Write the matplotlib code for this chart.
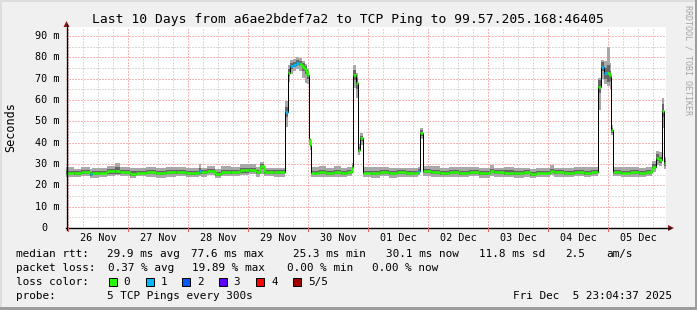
import matplotlib
matplotlib.use('Agg')
import matplotlib.pyplot as plt
from matplotlib.patches import Rectangle, Polygon
from matplotlib.lines import Line2D

W, H = 697, 310

# hours after the graph start (Tue Nov 25 23:04:37), median rtt in ms
hours = [0.0, 3.0, 6.0, 9.6, 10.4, 13.0, 16.4, 19.6, 21.6, 25.6, 28.0, 32.0,
         36.0, 40.0, 44.0, 48.0, 53.2, 54.0, 56.4, 59.6, 62.0, 66.0, 69.6, 73.0,
         76.0, 77.6, 79.2, 83.0,
         87.7, 88.9, 89.6, 90.6, 91.8, 93.0, 94.4, 95.4, 96.5, 97.1, 97.5,
         97.9, 101.0, 104.0, 107.0, 110.0, 112.5, 114.2,
         114.8, 116.0, 116.9, 117.6,
         118.9, 122.0, 125.5, 129.0, 132.5, 136.0, 139.0, 140.8,
         141.6,
         142.7, 146.0, 149.5, 153.0, 157.0, 161.0, 165.0, 169.6, 171.0, 175.0,
         179.0, 183.0, 185.6, 188.0, 193.6, 195.0, 199.0, 203.0, 207.0, 210.0,
         212.9, 214.0, 215.3, 216.3, 217.6, 218.0,
         218.9, 222.0, 225.5, 229.0, 232.0, 234.3,
         236.0, 237.3, 238.3, 239.2]
median = [26.0, 25.8, 26.2, 25.4, 25.6, 26.0, 26.5, 26.9, 26.2, 25.5, 26.0, 26.3,
          25.8, 26.1, 26.4, 25.9, 26.6, 26.1, 26.7, 25.5, 26.4, 26.3, 27.0, 27.3,
          26.3, 28.9, 26.2, 26.1,
          54.4, 72.8, 75.8, 76.6, 77.4, 77.0, 75.3, 74.0, 71.6, 41.6, 39.0,
          26.0, 26.3, 25.7, 26.2, 25.9, 26.2, 28.4,
          71.7, 67.8, 36.6, 42.0,
          26.0, 25.8, 26.2, 25.7, 26.1, 25.8, 26.0, 26.8,
          44.5,
          26.6, 26.2, 25.8, 26.3, 25.9, 26.2, 25.8, 26.8, 26.1, 26.0,
          25.7, 26.1, 25.4, 26.0, 26.8, 26.1, 25.9, 26.2, 25.9, 26.2,
          66.2, 75.6, 72.5, 72.5, 71.2, 45.9,
          26.4, 26.0, 26.3, 25.9, 26.2, 28.7,
          33.0, 31.9, 55.0, 30.3]
# smoke: light band above / below the median, dark band half width
smoke_up = [2.6, 2.0, 2.3, 2.4, 2.3, 2.1, 2.5, 3.6, 2.2, 2.4, 2.0, 2.4,
            2.2, 2.6, 2.2, 2.4, 3.2, 2.2, 2.4, 2.2, 2.6, 2.4, 2.8, 2.6,
            2.2, 2.2, 2.0, 2.2,
            5.0, 3.5, 3.0, 2.8, 2.6, 2.8, 3.0, 3.0, 3.0, 2.0, 2.0,
            2.4, 2.6, 2.2, 2.8, 2.4, 2.2, 2.0,
            4.5, 5.0, 3.0, 2.5,
            2.4, 2.6, 2.2, 2.4, 2.2, 2.5, 2.2, 2.0,
            2.5,
            2.4, 2.8, 2.4, 2.2, 2.6, 2.2, 2.4, 2.6, 2.2, 2.4,
            2.6, 2.2, 2.4, 2.2, 2.8, 2.2, 2.4, 2.2, 2.5, 2.2,
            4.0, 3.2, 6.0, 12.5, 6.0, 2.5,
            2.4, 2.6, 2.2, 2.4, 2.2, 2.5,
            3.0, 3.5, 6.0, 3.0]
smoke_dn = [2.2, 1.8, 2.0, 2.2, 2.0, 1.9, 2.0, 2.0, 2.0, 2.2, 1.8, 2.2,
            2.4, 2.0, 2.0, 2.2, 2.0, 2.0, 2.0, 2.0, 2.2, 2.0, 2.2, 2.0,
            2.4, 3.5, 1.8, 2.0,
            7.0, 4.5, 3.5, 3.0, 3.0, 3.5, 5.0, 6.0, 4.0, 2.5, 2.5,
            2.0, 2.2, 2.0, 2.2, 2.0, 2.0, 2.5,
            6.0, 7.0, 2.5, 3.0,
            2.0, 2.2, 2.0, 2.2, 2.0, 2.0, 2.0, 2.0,
            3.0,
            2.2, 2.2, 2.0, 2.2, 2.0, 2.0, 2.2, 2.2, 2.0, 2.0,
            2.2, 2.0, 2.2, 2.0, 2.0, 2.0, 2.2, 2.0, 2.2, 2.0,
            11.0, 6.0, 5.0, 6.0, 6.0, 2.5,
            2.2, 2.0, 2.2, 2.0, 2.0, 2.5,
            3.5, 3.0, 8.0, 2.5]
smoke_core = [0.9, 0.8, 1.0, 1.0, 0.9, 0.9, 1.0, 1.6, 0.9, 1.0, 0.8, 1.0,
              1.0, 0.9, 1.0, 0.9, 1.4, 0.9, 1.0, 0.9, 1.0, 0.9, 1.0, 1.0,
              1.0, 1.2, 0.8, 0.9,
              2.5, 1.6, 1.5, 1.3, 1.2, 1.3, 1.8, 2.0, 1.6, 1.0, 1.0,
              0.9, 1.0, 0.9, 1.0, 1.0, 0.9, 1.0,
              2.5, 2.5, 1.2, 1.2,
              0.9, 1.0, 0.9, 1.0, 0.9, 1.0, 0.9, 0.9,
              1.2,
              1.0, 1.0, 0.9, 1.0, 0.9, 1.0, 0.9, 1.0, 0.9, 1.0,
              1.0, 0.9, 1.0, 0.9, 1.0, 0.9, 1.0, 0.9, 1.0, 0.9,
              3.0, 2.0, 2.5, 4.0, 2.5, 1.2,
              1.0, 0.9, 1.0, 0.9, 1.0, 1.2,
              1.5, 1.5, 3.0, 1.2]
loss = [0, 0, 0, 1, 0, 0, 0, 0, 0, 0, 0, 0,
        0, 0, 0, 0, 1, 0, 0, 0, 0, 0, 0, 0,
        0, 0, 0, 0,
        1, 0, 1, 1, 1, 0, 0, 0, 0, 0, 0,
        0, 0, 0, 0, 0, 0, 0,
        0, 0, 0, 0,
        0, 0, 0, 0, 0, 0, 0, 1,
        0,
        0, 0, 0, 0, 0, 0, 0, 0, 0, 0,
        0, 0, 0, 0, 0, 0, 0, 0, 0, 0,
        0, 1, 1, 0, 0, 0,
        0, 0, 0, 0, 0, 0,
        0, 0, 0, 0]

loss_colors = ['#26ff00', '#00b8ff', '#0059ff', '#5e00ff', '#ff0000', '#a00000']
loss_labels = ['0', '1', '2', '3', '4', '5/5']
day_labels = ['26 Nov', '27 Nov', '28 Nov', '29 Nov', '30 Nov',
              '01 Dec', '02 Dec', '03 Dec', '04 Dec', '05 Dec']
y_ticks = [0, 10, 20, 30, 40, 50, 60, 70, 80, 90]
first_midnight = 55.38 / 60.0  # Nov 26 00:00 in hours after the start
span = 240.0

title = 'Last 10 Days from a6ae2bdef7a2 to TCP Ping to 99.57.205.168:46405'

MONO = 'DejaVu Sans Mono'
plt.rcParams['font.family'] = MONO


def fx(x):
    return x / W


def fy(y):
    return 1 - y / H


fig = plt.figure(figsize=(W / 100, H / 100), dpi=100, facecolor='#f0f0f0')

# 3d-ish frame of the rrd canvas
fig.add_artist(Rectangle((0, 0), fx(2), 1, transform=fig.transFigure, color='#dddddd', lw=0))
fig.add_artist(Rectangle((0, fy(2)), 1, 2 / H, transform=fig.transFigure, color='#dddddd', lw=0))
fig.add_artist(Rectangle((fx(695), 0), 2 / W, 1, transform=fig.transFigure, color='#9d9d9d', lw=0))
fig.add_artist(Rectangle((0, 0), 1, 3 / H, transform=fig.transFigure, color='#9d9d9d', lw=0))

ax = fig.add_axes([fx(66), fy(228), 600 / W, 201 / H])
ax.set_facecolor('white')
ax.set_xlim(0, span)
ax.set_ylim(0, 94.2)
for s in ax.spines.values():
    s.set_visible(False)
ax.set_xticks([])
ax.set_yticks([])

# dotted grid, red at midnights / every 10 ms, grey in between
dots = (0, (1, 2))
k = 0
while first_midnight + 6 * k < span:
    h = first_midnight + 6 * k
    col = '#f07070' if k % 4 == 0 else '#b8b8b8'
    ax.axvline(h, color=col, lw=0.72, ls=dots, zorder=1)
    k += 1
for v in range(5, 95, 5):
    col = '#f07070' if v % 10 == 0 else '#b8b8b8'
    ax.axhline(v, color=col, lw=0.72, ls=dots, zorder=1)

xs = hours + [span]
med = median + [median[-1]]
up = smoke_up + [smoke_up[-1]]
dn = smoke_dn + [smoke_dn[-1]]
cr = smoke_core + [smoke_core[-1]]

ax.fill_between(xs, [m - d for m, d in zip(med, dn)], [m + u for m, u in zip(med, up)],
                step='post', color='#a8a8a8', lw=0, zorder=2)
ax.fill_between(xs, [m - c for m, c in zip(med, cr)], [m + c for m, c in zip(med, cr)],
                step='post', color='#666666', lw=0, zorder=3)
ax.step(xs, med, where='post', color='black', lw=0.72, zorder=4)

for i in range(len(hours)):
    c = loss_colors[loss[i]]
    x0, x1 = xs[i], xs[i + 1]
    ax.hlines(median[i], x0, x1, color=c, lw=1.8, zorder=5)
    if i + 1 < len(median) and abs(median[i + 1] - median[i]) < 3:
        ax.vlines(x1, median[i], median[i + 1], color=c, lw=1.8, zorder=5)

# axis labels
for i, lab in enumerate(day_labels):
    ax.text(first_midnight + 12 + 24 * i, -10.3 / 201, lab, transform=ax.get_xaxis_transform(),
            ha='center', va='center', fontsize=7.3, color='#000000')
for v in y_ticks:
    if v == 0:
        ax.text(-19 / 600, v, '0', transform=ax.get_yaxis_transform(),
                ha='right', va='center', fontsize=7.3)
    else:
        ax.text(-6.5 / 600, v, '%d m' % v, transform=ax.get_yaxis_transform(),
                ha='right', va='center', fontsize=7.3)

# axis lines with the little red arrows
fig.add_artist(Line2D([fx(66), fx(670)], [fy(228), fy(228)], transform=fig.transFigure,
                      color='black', lw=1.0))
fig.add_artist(Line2D([fx(66.5), fx(66.5)], [fy(230), fy(25)], transform=fig.transFigure,
                      color='black', lw=1.0))
fig.add_artist(Polygon([(fx(668), fy(225)), (fx(674), fy(228)), (fx(668), fy(231))],
                       closed=True, transform=fig.transFigure, color='#8b1a1a', lw=0))
fig.add_artist(Polygon([(fx(63.5), fy(27)), (fx(66.5), fy(21)), (fx(69.5), fy(27))],
                       closed=True, transform=fig.transFigure, color='#8b1a1a', lw=0))
for i in range(10):
    h = first_midnight + 24 * i
    px = 66 + h * 2.5
    fig.add_artist(Line2D([fx(px), fx(px)], [fy(228), fy(231)], transform=fig.transFigure,
                          color='#e06060', lw=0.72))

fig.text(fx(347.5), fy(19), title, ha='center', va='center', fontsize=9.4)
fig.text(fx(11), fy(127), 'Seconds', rotation=90, ha='center', va='center', fontsize=8.5)
fig.text(fx(688), fy(5), 'RRDTOOL / TOBI OETIKER', rotation=270, ha='center', va='top',
         fontsize=6, color='#a5a5a5')

# legend block
LEG = 7.9
rows = [
    (254.3, [(15.6, 'median rtt:'), (106.7, '29.9 ms avg'), (191.1, '77.6 ms max'),
             (293.3, '25.3 ms min'), (386.2, '30.1 ms now'), (479.1, '11.8 ms sd'),
             (564.9, '2.5'), (606.7, 'am/s')]),
    (268.3, [(15.6, 'packet loss:'), (107.6, '0.37 % avg'), (192.4, '19.89 % max'),
             (286.7, '0.00 % min'), (372.4, '0.00 % now')]),
    (282.3, [(15.6, 'loss color:')]),
    (296.0, [(15.6, 'probe:'), (106.7, '5 TCP Pings every 300s'),
             (513.3, 'Fri Dec  5 23:04:37 2025')]),
]
for y, items in rows:
    for x, s in items:
        fig.text(fx(x), fy(y), s, ha='left', va='center', fontsize=LEG)

box_x = [108.9, 145.8, 182.2, 219.0, 256.4, 293.3]
for bx, col, lab in zip(box_x, loss_colors, loss_labels):
    fig.add_artist(Rectangle((fx(bx), fy(286.3)), 8 / W, 8 / H, transform=fig.transFigure,
                             facecolor=col, edgecolor='black', lw=0.72))
    fig.text(fx(bx + 14.7), fy(282.3), lab, ha='left', va='center', fontsize=LEG)

fig.savefig('out.png', dpi=100, facecolor=fig.get_facecolor())
